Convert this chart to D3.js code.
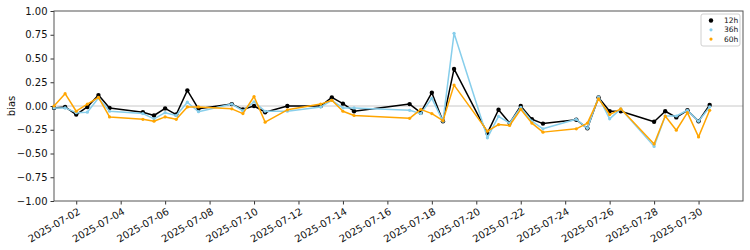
<!DOCTYPE html>
<html>
<head>
<meta charset="utf-8">
<script src="https://cdn.jsdelivr.net/npm/d3@7"></script>
<style>
  body { margin: 0; background: #fff; }
  svg { display: block; font-family: "DejaVu Sans", sans-serif; }
</style>
</head>
<body>
<svg id="chart" width="750" height="250"></svg>
<script>
// time stamps (12-hour steps, with gaps)
const times = [
  "2025-07-01 00:00", "2025-07-01 12:00", "2025-07-02 00:00", "2025-07-02 12:00",
  "2025-07-03 00:00", "2025-07-03 12:00", "2025-07-05 00:00", "2025-07-05 12:00",
  "2025-07-06 00:00", "2025-07-06 12:00", "2025-07-07 00:00", "2025-07-07 12:00",
  "2025-07-09 00:00", "2025-07-09 12:00", "2025-07-10 00:00", "2025-07-10 12:00",
  "2025-07-11 12:00", "2025-07-13 00:00", "2025-07-13 12:00", "2025-07-14 00:00",
  "2025-07-14 12:00", "2025-07-17 00:00", "2025-07-17 12:00", "2025-07-18 00:00",
  "2025-07-18 12:00", "2025-07-19 00:00", "2025-07-20 12:00", "2025-07-21 00:00",
  "2025-07-21 12:00", "2025-07-22 00:00", "2025-07-22 12:00", "2025-07-23 00:00",
  "2025-07-24 12:00", "2025-07-25 00:00", "2025-07-25 12:00", "2025-07-26 00:00",
  "2025-07-26 12:00", "2025-07-28 00:00", "2025-07-28 12:00", "2025-07-29 00:00",
  "2025-07-29 12:00", "2025-07-30 00:00", "2025-07-30 12:00"
];

const bias12h = [
  -0.02, -0.01, -0.09, -0.01, 0.115, -0.02, -0.065, -0.10, -0.025, -0.09,
  0.165, -0.03, 0.02, -0.035, 0.00, -0.065, 0.00, 0.00, 0.09, 0.025,
  -0.055, 0.02, -0.07, 0.14, -0.16, 0.39, -0.285, -0.04, -0.18, 0.00,
  -0.14, -0.185, -0.145, -0.235, 0.09, -0.055, -0.055, -0.165, -0.055, -0.12,
  -0.045, -0.16, 0.01
];

const bias36h = [
  -0.02, -0.02, -0.07, -0.065, 0.085, -0.055, -0.08, -0.135, -0.07, -0.10,
  0.04, -0.06, 0.02, -0.05, 0.045, -0.055, -0.055, -0.01, 0.06, -0.02,
  -0.02, -0.045, -0.08, 0.08, -0.16, 0.765, -0.335, -0.11, -0.18, -0.015,
  -0.16, -0.24, -0.14, -0.235, 0.095, -0.135, -0.03, -0.425, -0.105, -0.105,
  -0.045, -0.16, -0.01
];

const bias60h = [
  0.00, 0.13, -0.055, 0.02, 0.09, -0.115, -0.14, -0.16, -0.115, -0.14,
  -0.01, -0.01, -0.03, -0.08, 0.10, -0.17, -0.04, 0.02, 0.06, -0.055,
  -0.10, -0.13, -0.035, -0.08, -0.155, 0.22, -0.265, -0.195, -0.205, -0.035,
  -0.18, -0.275, -0.24, -0.18, 0.075, -0.09, -0.03, -0.40, -0.105, -0.255,
  -0.07, -0.325, -0.045
];

const yTicks = [-1, -0.75, -0.5, -0.25, 0, 0.25, 0.5, 0.75, 1];

const seriesList = [
  { name: "12h", values: bias12h, color: "#000000", r: 2.2 },
  { name: "36h", values: bias36h, color: "#87ceeb", r: 1.6 },
  { name: "60h", values: bias60h, color: "#ffa500", r: 1.6 }
];

const parseTime = d3.timeParse("%Y-%m-%d %H:%M");
const dates = times.map(parseTime);

const svg = d3.select("#chart");
const margin = { left: 54, top: 11, right: 7, bottom: 49 };
const W = 750 - margin.left - margin.right;
const H = 250 - margin.top - margin.bottom;

const x = d3.scaleTime()
  .domain([new Date(2025, 6, 1), new Date(2025, 7, 1)])
  .range([0, W]);
const y = d3.scaleLinear().domain([-1, 1]).range([H, 0]);

const g = svg.append("g").attr("transform", `translate(${margin.left},${margin.top})`);

// zero reference line
g.append("line")
  .attr("x1", 0).attr("x2", W)
  .attr("y1", y(0)).attr("y2", y(0))
  .attr("stroke", "#c8c8c8").attr("stroke-width", 1);

// axes
const fmtY = v => d3.format(".2f")(v).replace("-", "\u2212");
const yAxis = g.append("g")
  .call(d3.axisLeft(y).tickValues(yTicks).tickSize(3.5).tickPadding(3).tickFormat(fmtY));

const xTickDates = d3.range(2, 31, 2).map(d => new Date(2025, 6, d));
const xAxis = g.append("g")
  .attr("transform", `translate(0,${H})`)
  .call(d3.axisBottom(x).tickValues(xTickDates).tickSize(3.5).tickFormat(d3.timeFormat("%Y-%m-%d")));

xAxis.selectAll("text")
  .attr("text-anchor", "end")
  .attr("dx", 0).attr("dy", 0)
  .attr("transform", "translate(1,7) rotate(-30)");

[xAxis, yAxis].forEach(a => {
  a.select(".domain").remove();
  a.selectAll("line").attr("stroke", "#333");
  a.selectAll("text").attr("font-size", 10).attr("fill", "#111").attr("font-family", "DejaVu Sans, sans-serif");
});

// frame
g.append("rect")
  .attr("x", 0).attr("y", 0).attr("width", W).attr("height", H)
  .attr("fill", "none").attr("stroke", "#555").attr("stroke-width", 1);

// y label
svg.append("text")
  .attr("transform", `translate(15,${margin.top + H / 2}) rotate(-90)`)
  .attr("text-anchor", "middle")
  .attr("font-size", 10).attr("fill", "#111")
  .text("bias");

// lines and markers
const line = d3.line()
  .x((d, i) => x(dates[i]))
  .y(d => y(d));

seriesList.forEach(s => {
  g.append("path")
    .datum(s.values)
    .attr("fill", "none")
    .attr("stroke", s.color)
    .attr("stroke-width", 1.5)
    .attr("stroke-linejoin", "round")
    .attr("d", line);

  g.append("g").selectAll("circle")
    .data(s.values)
    .join("circle")
    .attr("cx", (d, i) => x(dates[i]))
    .attr("cy", d => y(d))
    .attr("r", s.r)
    .attr("fill", s.color);
});

// legend
const lg = svg.append("g").attr("transform", "translate(701,14)");
lg.append("rect")
  .attr("width", 39).attr("height", 32).attr("rx", 2)
  .attr("fill", "#fff").attr("fill-opacity", 0.8)
  .attr("stroke", "#d0d0d0").attr("stroke-width", 1);

seriesList.forEach((s, i) => {
  const row = lg.append("g").attr("transform", `translate(0,${6.5 + i * 9.3})`);
  row.append("circle").attr("cx", 10).attr("cy", 0).attr("r", s.r).attr("fill", s.color);
  row.append("text")
    .attr("x", 23).attr("y", 0).attr("dy", "0.35em")
    .attr("font-size", 7.5).attr("fill", "#111")
    .text(s.name);
});
</script>
</body>
</html>
